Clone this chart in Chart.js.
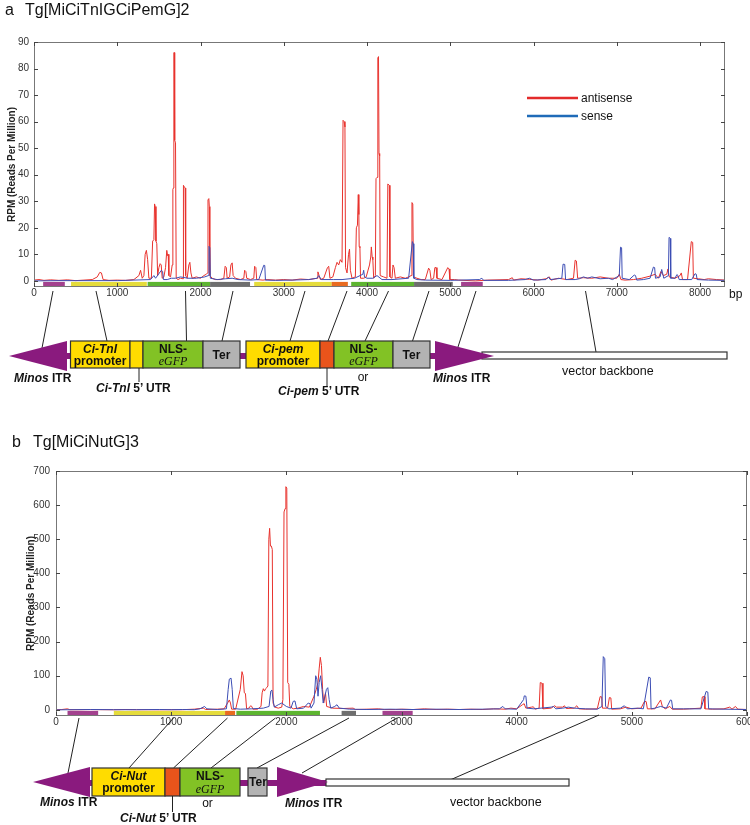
<!DOCTYPE html>
<html>
<head>
<meta charset="utf-8">
<script src="https://cdn.jsdelivr.net/npm/chart.js@4.4.0/dist/chart.umd.min.js"></script>
<style>
  body { margin: 0; background: #fff; width: 750px; height: 825px; overflow: hidden; position: relative; font-family: Arial, "Liberation Sans", sans-serif; }
  #wrapA { position: absolute; left: 0; top: 0; width: 750px; height: 410px; }
  #wrapB { position: absolute; left: 0; top: 420px; width: 770px; height: 405px; }
  svg { position: absolute; left: 0; top: 0; }
  .b { font-weight: bold; }
  .bi { font-weight: bold; font-style: italic; }
  .gfp { font-family: "Liberation Serif", "Times New Roman", serif; font-style: italic; }
</style>
</head>
<body>
<div id="wrapA"><canvas id="chartA" width="750" height="410"></canvas></div>
<div id="wrapB"><canvas id="chartB" width="770" height="405"></canvas></div>

<svg width="750" height="825" font-family="Arial, 'Liberation Sans', sans-serif" fill="#111">
  <!-- titles -->
  <text x="5" y="14.5" font-size="16">a</text>
  <text x="25" y="14.5" font-size="16">Tg[MiCiTnIGCiPemG]2</text>
  <text x="12" y="447" font-size="16">b</text>
  <text x="33" y="447" font-size="16">Tg[MiCiNutG]3</text>

  <!-- legend -->
  <line x1="527" y1="98" x2="578" y2="98" stroke="#e32b2b" stroke-width="2.5"/>
  <text x="581" y="102" font-size="12">antisense</text>
  <line x1="527" y1="116" x2="578" y2="116" stroke="#1f6bb8" stroke-width="2.5"/>
  <text x="581" y="120" font-size="12">sense</text>
  <text x="729" y="298" font-size="12">bp</text>

  <!-- construct a -->
  <g stroke="#222" stroke-width="1">
    <line x1="53" y1="291" x2="42" y2="348"/>
    <line x1="96" y1="291" x2="107" y2="341"/>
    <line x1="185.5" y1="291" x2="186.5" y2="341"/>
    <line x1="233" y1="291" x2="222" y2="341"/>
    <line x1="305" y1="291" x2="290" y2="341"/>
    <line x1="347" y1="291" x2="328" y2="341"/>
    <line x1="388.5" y1="291" x2="365" y2="341"/>
    <line x1="429" y1="291" x2="412.5" y2="341"/>
    <line x1="476" y1="291" x2="457" y2="350"/>
    <line x1="585.5" y1="291" x2="596" y2="352"/>
  </g>
  <rect x="62" y="353" width="425" height="6" fill="#8a1a7e"/>
  <polygon points="9,356 67,341 67,371" fill="#8a1a7e"/>
  <g stroke="#333" stroke-width="1.2">
    <rect x="70.5" y="341" width="59.5" height="27" fill="#ffdc00"/>
    <rect x="130" y="341" width="13" height="27" fill="#ffdc00"/>
    <rect x="143" y="341" width="60" height="27" fill="#82c225"/>
    <rect x="203" y="341" width="37" height="27" fill="#b3b3b3"/>
    <rect x="246" y="341" width="74" height="27" fill="#ffdc00"/>
    <rect x="320" y="341" width="14" height="27" fill="#e9541b"/>
    <rect x="334" y="341" width="59" height="27" fill="#82c225"/>
    <rect x="393" y="341" width="37" height="27" fill="#b3b3b3"/>
    <rect x="482" y="352" width="245" height="7" fill="#fff"/>
  </g>
  <polygon points="435,341 435,371 494,356" fill="#8a1a7e"/>
  <g stroke="#222" stroke-width="1">
    <line x1="139" y1="368" x2="139" y2="382"/>
    <line x1="327" y1="368" x2="327" y2="387"/>
  </g>
  <g font-size="12" text-anchor="middle">
    <text x="100" y="353" class="bi">Ci-TnI</text>
    <text x="100" y="365" class="b">promoter</text>
    <text x="173" y="353" class="b">NLS-</text>
    <text x="173" y="365" class="gfp">eGFP</text>
    <text x="221.5" y="359" class="b">Ter</text>
    <text x="283" y="353" class="bi">Ci-pem</text>
    <text x="283" y="365" class="b">promoter</text>
    <text x="363.5" y="353" class="b">NLS-</text>
    <text x="363.5" y="365" class="gfp">eGFP</text>
    <text x="411.5" y="359" class="b">Ter</text>
    <text x="363" y="381">or</text>
  </g>
  <g font-size="12">
    <text x="14" y="382" class="b"><tspan font-style="italic">Minos</tspan> ITR</text>
    <text x="96" y="392" class="b"><tspan font-style="italic">Ci-TnI</tspan> 5’  UTR</text>
    <text x="278" y="395" class="b"><tspan font-style="italic">Ci-pem</tspan> 5’  UTR</text>
    <text x="433" y="382" class="b"><tspan font-style="italic">Minos</tspan> ITR</text>
    <text x="562" y="375" font-size="12.5">vector backbone</text>
  </g>

  <!-- construct b -->
  <g stroke="#222" stroke-width="1">
    <line x1="79" y1="718" x2="68" y2="773"/>
    <line x1="173.5" y1="718" x2="129" y2="768"/>
    <line x1="227.5" y1="718" x2="173.5" y2="768"/>
    <line x1="275.5" y1="718" x2="211" y2="768"/>
    <line x1="349" y1="718" x2="257" y2="768"/>
    <line x1="397" y1="718" x2="302" y2="773"/>
    <line x1="599" y1="715" x2="450" y2="780"/>
  </g>
  <rect x="85" y="780" width="245" height="6" fill="#8a1a7e"/>
  <polygon points="33,782 90,767 90,797" fill="#8a1a7e"/>
  <g stroke="#333" stroke-width="1.2">
    <rect x="92" y="768" width="73" height="28" fill="#ffdc00"/>
    <rect x="165" y="768" width="15" height="28" fill="#e9541b"/>
    <rect x="180" y="768" width="60" height="28" fill="#82c225"/>
    <rect x="248" y="768" width="19" height="28" fill="#b3b3b3"/>
    <rect x="326" y="779" width="243" height="7" fill="#fff"/>
  </g>
  <polygon points="277,767 277,797 328,782" fill="#8a1a7e"/>
  <line x1="172.5" y1="796" x2="172.5" y2="812" stroke="#222" stroke-width="1"/>
  <g font-size="12" text-anchor="middle">
    <text x="128.5" y="780" class="bi">Ci-Nut</text>
    <text x="128.5" y="792" class="b">promoter</text>
    <text x="210" y="780" class="b">NLS-</text>
    <text x="210" y="793" class="gfp">eGFP</text>
    <text x="258" y="786" class="b">Ter</text>
    <text x="207.5" y="807">or</text>
  </g>
  <g font-size="12">
    <text x="40" y="806" class="b"><tspan font-style="italic">Minos</tspan> ITR</text>
    <text x="285" y="807" class="b"><tspan font-style="italic">Minos</tspan> ITR</text>
    <text x="450" y="806" font-size="12.5">vector backbone</text>
    <text x="120" y="822" class="b"><tspan font-style="italic">Ci-Nut</tspan>  5’  UTR</text>
  </g>
</svg>

<script>
// Panel a: Tg[MiCiTnIGCiPemG]2, [bp, RPM]
const antisenseA = [[0,0.3],[60,0.5],[120,0.2],[200,0.4],[300,0.2],[400,0.4],[500,0.1],[600,0.3],[700,0.5],[760,1.5],[790,3.2],[810,3.0],[830,0.5],[900,0.2],[1000,0.3],[1100,0.2],[1200,0.5],[1260,2],[1280,4],[1300,1],[1320,2],[1335,10],[1350,11.5],[1365,8],[1380,1],[1410,1],[1425,15],[1440,15.5],[1448,29],[1456,28],[1465,15],[1475,14],[1485,2],[1500,5],[1515,6.5],[1528,6],[1540,1],[1560,1.5],[1580,5],[1595,11.5],[1605,9.5],[1612,10],[1620,2],[1640,1.5],[1660,6],[1668,34.5],[1675,35],[1680,86],[1686,86],[1690,53],[1700,52],[1708,1],[1730,0.5],[1760,1],[1790,0.8],[1795,36],[1805,35.5],[1815,35],[1822,2],[1840,1],[1860,6],[1872,7],[1885,3],[1900,1],[1950,1.5],[2000,1],[2040,2],[2070,2.5],[2085,3],[2090,30.5],[2100,31],[2106,28],[2112,2],[2140,1],[2180,0.5],[2240,0.5],[2280,1],[2296,5.5],[2310,5],[2320,1],[2350,1.5],[2365,6],[2380,6.8],[2392,2],[2420,1],[2480,0.5],[2520,1],[2530,4],[2545,3.5],[2555,1],[2600,0.5],[2640,1],[2650,5.5],[2665,5],[2675,0.5],[2750,0.3],[2800,0.5],[2900,0.3],[3000,0.5],[3100,0.3],[3200,0.7],[3300,0.5],[3400,1],[3410,3.4],[3425,2],[3440,0.5],[3480,1],[3525,5],[3540,5.5],[3555,1],[3590,1.5],[3620,5],[3640,7],[3660,6],[3680,8],[3700,7],[3712,60.5],[3725,60],[3735,58],[3742,5],[3760,3],[3778,10],[3790,12],[3800,4],[3820,1],[3860,1.5],[3872,20],[3885,21],[3895,32.5],[3902,25],[3906,13],[3915,12.5],[3922,1],[3960,1],[3990,1.5],[4030,6],[4045,9],[4052,12.8],[4062,9],[4070,8],[4080,1],[4100,2],[4108,38.5],[4120,39],[4130,84],[4138,84.5],[4144,48],[4152,47],[4158,2],[4200,1.5],[4240,1],[4250,36.5],[4268,36],[4275,1.5],[4300,1],[4312,6],[4325,5],[4340,1],[4400,1.5],[4460,1],[4500,1.5],[4530,2],[4540,29.5],[4550,29],[4558,1.5],[4600,1],[4650,0.5],[4700,0.5],[4740,4.8],[4755,4],[4770,0.5],[4800,1],[4815,5],[4830,5],[4840,1],[4900,0.5],[4970,5],[4985,4.5],[4995,0.5],[5050,0.5],[5100,0.3],[5300,0],[5450,0.3],[5700,0.5],[5745,1.2],[5760,0.3],[5850,0.8],[5950,0.6],[6050,0.3],[6150,0.8],[6190,1.5],[6210,0.3],[6300,1],[6400,0.5],[6480,1],[6500,7.8],[6515,7.5],[6530,1],[6600,1.2],[6700,1],[6800,1.5],[6900,1],[7000,1],[7030,2.5],[7050,0.5],[7100,0.3],[7200,0.5],[7300,1],[7400,1.8],[7460,2.5],[7500,1],[7530,3.5],[7560,2],[7600,2.5],[7615,4.5],[7630,1.5],[7700,1],[7760,2],[7775,3],[7790,0.5],[7850,0.5],[7895,14.8],[7912,14.5],[7920,1],[7980,0.8],[8050,0.5],[8100,0.8],[8200,0.5],[8300,0.3]];
const senseA = [[0,0],[300,0.1],[1000,0.1],[1200,0.3],[1400,0.5],[1440,2],[1460,1],[1530,4],[1545,3.5],[1555,0.5],[1600,0.5],[1650,1],[1700,1],[1760,1.5],[1850,1],[1950,1],[2050,1.5],[2095,2],[2102,13],[2112,12.5],[2118,1],[2200,0.5],[2300,0.8],[2380,1],[2450,0.5],[2600,0.3],[2700,0.5],[2760,5.9],[2772,5.8],[2780,0.3],[2900,0.2],[3100,0.3],[3300,0.5],[3400,1],[3420,2],[3450,0.5],[3600,0.5],[3700,0.5],[3850,1],[3950,2.5],[3960,4],[3970,1.5],[4000,1],[4070,1],[4120,2],[4180,0.5],[4300,0.5],[4500,1],[4545,14.8],[4555,14],[4562,1],[4600,0.5],[4700,0.3],[5000,0.2],[5350,0.5],[5380,1],[5400,0.2],[5700,0.2],[5900,0.5],[5950,1],[6000,0.3],[6150,0.5],[6180,1.5],[6200,0.5],[6340,1],[6355,6.3],[6375,6.2],[6385,0.5],[6500,0.5],[6550,0.8],[6600,1.5],[6650,1],[6700,1.5],[6800,0.8],[6900,1],[6950,0.5],[7030,2],[7045,12.7],[7058,12.5],[7065,1],[7150,0.5],[7210,2.2],[7225,2],[7240,0.3],[7320,0.5],[7400,1],[7440,5.2],[7455,5],[7465,1],[7520,1.5],[7540,4.3],[7550,3],[7565,1],[7620,2],[7628,16.4],[7642,16],[7648,1],[7700,1],[7722,2.4],[7735,2],[7750,0.5],[7900,0.5],[7940,2.7],[7955,2.5],[7965,0.5],[8100,0.3],[8300,0.2]];
const featuresA = [[110,370,'itr'],[445,1355,'prom'],[1365,2115,'gfp'],[2115,2595,'ter'],[2645,3575,'prom'],[3575,3770,'utr'],[3810,4565,'gfp'],[4565,5030,'ter'],[5130,5390,'itr']];
const xTicksA = [0, 1000, 2000, 3000, 4000, 5000, 6000, 7000, 8000];
const yTicksA = [0, 10, 20, 30, 40, 50, 60, 70, 80, 90];

// Panel b: Tg[MiCiNutG]3, [bp, RPM]
const antisenseB = [[0,0],[50,1],[100,3],[120,0.5],[200,0.5],[300,1],[400,0.5],[500,0.3],[600,1],[700,0.5],[800,0.5],[900,0.3],[1000,0.5],[1100,0.5],[1200,2],[1280,5],[1300,1],[1400,2],[1460,3],[1490,20],[1505,29],[1515,20],[1525,2],[1560,2],[1600,60],[1615,112],[1625,100],[1635,50],[1645,48],[1655,3],[1675,5],[1690,12],[1700,10],[1710,2],[1750,2],[1780,10],[1790,50],[1800,62],[1810,55],[1820,62],[1830,65],[1840,70],[1848,500],[1855,532],[1862,480],[1870,480],[1878,470],[1885,20],[1900,8],[1930,5],[1960,8],[1970,30],[1980,580],[1990,590],[1996,654],[2004,650],[2012,80],[2022,75],[2030,10],[2060,3],[2100,5],[2150,10],[2200,8],[2240,40],[2260,60],[2275,80],[2285,120],[2295,154],[2305,130],[2315,60],[2325,20],[2340,50],[2350,10],[2400,5],[2500,4],[2580,5],[2600,1],[2700,2],[2800,3],[2850,1],[2950,1],[3000,2],[3100,1],[3200,3],[3300,1],[3400,2],[3500,1],[3600,2],[3700,1],[3800,3],[3900,2],[3950,5],[4000,3],[4050,15],[4065,18],[4080,5],[4130,8],[4145,9],[4160,2],[4195,5],[4205,80],[4220,78],[4228,3],[4300,5],[4330,12],[4345,8],[4400,8],[4415,12],[4430,4],[4500,5],[4522,12],[4540,3],[4600,2],[4700,3],[4725,39],[4738,38],[4745,5],[4790,5],[4805,36],[4818,35],[4825,2],[4900,3],[4950,8],[5000,3],[5080,5],[5110,25],[5125,24],[5135,3],[5200,3],[5250,29],[5265,10],[5290,3],[5330,10],[5350,2],[5450,2],[5500,3],[5600,5],[5612,38],[5628,39],[5635,3],[5700,2],[5800,3],[5850,8],[5870,2],[5900,10],[5920,2],[6000,1]];
const senseB = [[0,0],[300,1],[500,0.5],[700,0.5],[900,1],[1000,0.5],[1100,1],[1200,0.5],[1250,3],[1290,10],[1310,3],[1400,1],[1480,3],[1495,60],[1505,90],[1520,93],[1530,60],[1540,4],[1600,2],[1700,3],[1800,5],[1850,10],[1865,55],[1875,58],[1885,30],[1895,8],[1930,15],[1960,20],[2000,10],[2040,5],[2060,25],[2075,26],[2090,3],[2150,5],[2190,20],[2205,18],[2215,5],[2240,20],[2255,100],[2265,90],[2275,40],[2285,80],[2298,100],[2310,60],[2320,20],[2335,40],[2348,60],[2360,65],[2372,30],[2385,5],[2420,10],[2440,15],[2460,5],[2550,2],[2700,1],[2900,2],[3100,1],[3300,2],[3500,1],[3700,2],[3850,3],[3880,10],[3900,3],[4000,2],[4060,30],[4066,41],[4080,40],[4090,5],[4150,3],[4300,8],[4320,10],[4340,3],[4400,5],[4450,8],[4500,5],[4600,3],[4700,2],[4740,10],[4752,156],[4765,150],[4772,10],[4800,3],[4900,5],[4935,12],[4960,3],[5050,5],[5100,3],[5147,96],[5160,94],[5167,3],[5200,5],[5250,10],[5300,5],[5335,29],[5345,28],[5355,3],[5450,3],[5600,3],[5645,54],[5660,52],[5667,3],[5800,2],[6000,1]];
const featuresB = [[100,366,'itr'],[502,1468,'prom'],[1468,1555,'utr'],[1566,2292,'gfp'],[2480,2605,'ter'],[2835,3097,'itr']];
const xTicksB = [0, 1000, 2000, 3000, 4000, 5000, 6000];
const yTicksB = [0, 100, 200, 300, 400, 500, 600, 700];

// strip colours per feature type
const featureColors = { itr: '#a3418e', prom: '#e5dc3b', utr: '#e96b1f', gfp: '#5db530', ter: '#6e6e6e' };

// coloured feature strip under the zero line
const stripPlugin = {
  id: 'strip',
  beforeDatasetsDraw(chart, args, opts) {
    const { ctx, chartArea: a, scales: { x, y } } = chart;
    const y0 = y.getPixelForValue(0) + 1;
    ctx.save();
    opts.features.forEach(f => {
      const x1 = x.getPixelForValue(f[0]);
      const x2 = x.getPixelForValue(f[1]);
      ctx.fillStyle = featureColors[f[2]];
      ctx.fillRect(x1, y0, x2 - x1, a.bottom - y0);
    });
    ctx.restore();
  }
};

// box frame with inward ticks
const framePlugin = {
  id: 'frame',
  afterDraw(chart) {
    const { ctx, chartArea: a, scales: { x, y } } = chart;
    ctx.save();
    ctx.strokeStyle = '#777';
    ctx.lineWidth = 1;
    ctx.strokeRect(a.left + 0.5, a.top + 0.5, a.right - a.left - 1, a.bottom - a.top - 1);
    ctx.strokeStyle = '#444';
    ctx.beginPath();
    x.ticks.forEach(t => {
      const px = Math.round(x.getPixelForValue(t.value)) + 0.5;
      ctx.moveTo(px, a.top); ctx.lineTo(px, a.top + 4);
      ctx.moveTo(px, a.bottom); ctx.lineTo(px, a.bottom - 4);
    });
    y.ticks.forEach(t => {
      const py = Math.round(y.getPixelForValue(t.value)) + 0.5;
      ctx.moveTo(a.left, py); ctx.lineTo(a.left + 4, py);
      ctx.moveTo(a.right, py); ctx.lineTo(a.right - 4, py);
    });
    ctx.stroke();
    ctx.restore();
  }
};

const toXY = arr => arr.map(p => ({ x: p[0], y: p[1] }));

function makeChart(id, anti, sense, features, xTicks, yTicks, o) {
  return new Chart(document.getElementById(id), {
    type: 'line',
    data: {
      datasets: [
        { label: 'sense', data: toXY(sense), borderColor: '#3c4db4', borderWidth: 1, pointRadius: 0, tension: 0 },
        { label: 'antisense', data: toXY(anti), borderColor: '#e8322d', borderWidth: 1, pointRadius: 0, tension: 0 }
      ]
    },
    options: {
      responsive: false,
      animation: false,
      layout: { padding: { left: 0, top: o.top, right: o.right, bottom: o.bottom } },
      plugins: { legend: { display: false }, tooltip: { enabled: false }, strip: { features: features } },
      scales: {
        x: {
          type: 'linear', min: 0, max: o.xMax,
          grid: { display: false, drawTicks: false }, border: { display: false },
          ticks: { padding: 0, maxRotation: 0, autoSkip: false,
                   color: '#333', font: { family: 'Arial', size: 10 }, callback: v => String(v) },
          afterBuildTicks(s) { s.ticks = xTicks.map(v => ({ value: v })); },
          afterFit(s) { s.height = 20; }
        },
        y: {
          min: o.yMin, max: o.yMax,
          grid: { display: false, drawTicks: false }, border: { display: false },
          ticks: { padding: o.tickPad, autoSkip: false,
                   color: '#333', font: { family: 'Arial', size: 10 }, callback: v => String(v) },
          afterBuildTicks(s) { s.ticks = yTicks.map(v => ({ value: v })); },
          title: { display: true, text: 'RPM (Reads Per Million)', color: '#222',
                   font: { family: 'Arial', size: 10, weight: 'bold' }, padding: { top: o.titlePad, bottom: 0 } },
          afterFit(s) { s.width = o.left; }
        }
      }
    },
    plugins: [stripPlugin, framePlugin]
  });
}

makeChart('chartA', antisenseA, senseA, featuresA, xTicksA, yTicksA,
  { top: 42, right: 25, bottom: 103, left: 34, xMax: 8300, yMin: -2.3, yMax: 90, tickPad: 5, titlePad: 6 });
makeChart('chartB', antisenseB, senseB, featuresB, xTicksB, yTicksB,
  { top: 51, right: 23, bottom: 89, left: 56, xMax: 6000, yMin: -18, yMax: 700, tickPad: 6, titlePad: 25 });
</script>
</body>
</html>
